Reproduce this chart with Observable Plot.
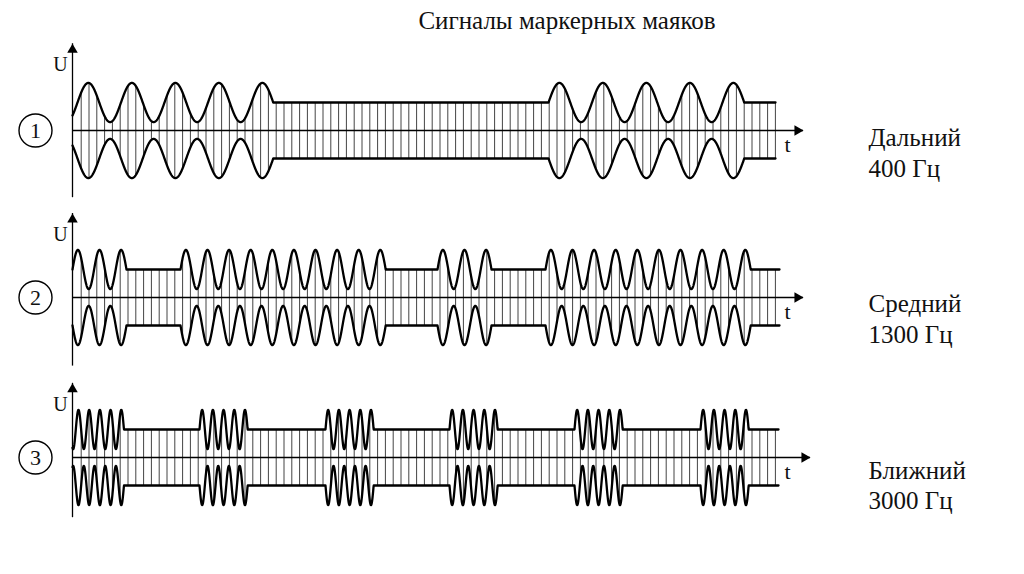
<!DOCTYPE html>
<html><head><meta charset="utf-8">
<script src="https://cdn.jsdelivr.net/npm/d3@7"></script>
<script src="https://cdn.jsdelivr.net/npm/@observablehq/plot@0.6"></script>
<style>
body{margin:0;background:#fff;font-family:"Liberation Serif",serif;}
#title{position:relative;width:1024px;height:40px;}
#title span{position:absolute;left:567px;top:7px;transform:translateX(-50%);font-size:25px;white-space:nowrap;color:#111;}
svg{display:block;}
</style></head><body>
<div id="title"><span>Сигналы маркерных маяков</span></div>
<div id="chart"></div>
<script>
// ---- data ----
const panelIds = ["1", "2", "3"];
const beaconNames = ["Дальний", "Средний", "Ближний"];
const toneLabels = ["400 Гц", "1300 Гц", "3000 Гц"];
const tonePeriods = [43.5, 21.6, 10.7];            // modulation period (time units)
const burstStarts = [[-38.5, 476], [0, 108, 365, 473], [-7.4, 127, 253, 377, 502, 628]];
const burstCycles = [[6, 5], [3, 10, 3, 10], [6, 5, 5, 5, 5, 5]];
const signalEnds = [703, 707, 706];
const carrierFirst = [8.7, 8.7, 8.7];
const carrierStep = 7.8;
const modDepth = 0.7;
const axisTop = [3.1, 3.0, 2.65];
const axisBottom = [-2.4, -2.45, -2.15];
const axisEnd = [731, 731, 738];
const labelY = [-0.75, -0.72, -0.95];
const panelHeights = [167, 160, 167];
const serif = "Liberation Serif";

function envelope(i, t) {
  const P = tonePeriods[i];
  for (let b = 0; b < burstStarts[i].length; b++) {
    const s = burstStarts[i][b], e = s + (burstCycles[i][b] - 0.5) * P;
    if (t >= s && t <= e) return 1 + modDepth * Math.sin(2 * Math.PI * (t - s) / P);
  }
  return 1;
}

const chart = document.getElementById("chart");
panelIds.forEach((id, i) => {
  const end = signalEnds[i];
  const samples = d3.range(0, end + 0.001, 0.25).map(t => ({t, v: envelope(i, t)}));
  const upper = samples;
  const lower = samples.map(d => ({t: d.t, v: -d.v}));
  const carriers = [];
  for (let t = carrierFirst[i]; t <= end; t += carrierStep) {
    const a = envelope(i, t);
    carriers.push({t, hi: a, lo: -a});
  }
  const H = panelHeights[i];
  const svg = Plot.plot({
    width: 1024, height: H,
    marginLeft: 72, marginRight: 212, marginTop: 0, marginBottom: 0,
    x: {domain: [0, 740], axis: null},
    y: {domain: [-1, 1], range: [118, 62], axis: null},
    style: {background: "transparent", color: "#111"},
    marks: [
      Plot.ruleX(carriers, {x: "t", y1: "lo", y2: "hi", stroke: "#444", strokeWidth: 1}),
      Plot.ruleY([0], {x1: 0, x2: axisEnd[i], stroke: "#000", strokeWidth: 1.3}),
      Plot.ruleX([0], {y1: axisBottom[i], y2: axisTop[i], stroke: "#000", strokeWidth: 1.3}),
      Plot.line(upper, {x: "t", y: "v", stroke: "#000", strokeWidth: 2.3}),
      Plot.line(lower, {x: "t", y: "v", stroke: "#000", strokeWidth: 2.3}),
      Plot.dot([{x: 0, y: axisTop[i]}], {x: "x", y: "y", symbol: "triangle", r: 3.9, fill: "#000", stroke: "none", dy: 6}),
      Plot.dot([{x: axisEnd[i], y: 0}], {x: "x", y: "y", symbol: "triangle", r: 3.9, fill: "#000", stroke: "none", rotate: 90, dx: -6}),
      Plot.text([{x: -12, y: axisTop[i] - 0.75}], {x: "x", y: "y", text: () => "U", fontSize: 20, fontFamily: serif}),
      Plot.text([{x: 715, y: -0.5}], {x: "x", y: "y", text: () => "t", fontSize: 22, fontFamily: serif}),
      Plot.dot([{x: -37, y: 0}], {x: "x", y: "y", r: 16.5, stroke: "#000", strokeWidth: 1.4, fill: "#fff"}),
      Plot.text([{x: -37, y: 0, s: id}], {x: "x", y: "y", text: "s", fontSize: 22, fontFamily: serif}),
      Plot.text([{x: 796, y: labelY[i], s: beaconNames[i] + "\n" + toneLabels[i]}],
        {x: "x", y: "y", text: "s", fontSize: 25, fontFamily: serif, textAnchor: "start", lineAnchor: "middle", lineHeight: 1.22})
    ]
  });
  svg.querySelectorAll("text, tspan").forEach(el => el.style.setProperty("font-family", "'Liberation Serif', serif", "important"));
  chart.appendChild(svg);
});
</script>
</body></html>
